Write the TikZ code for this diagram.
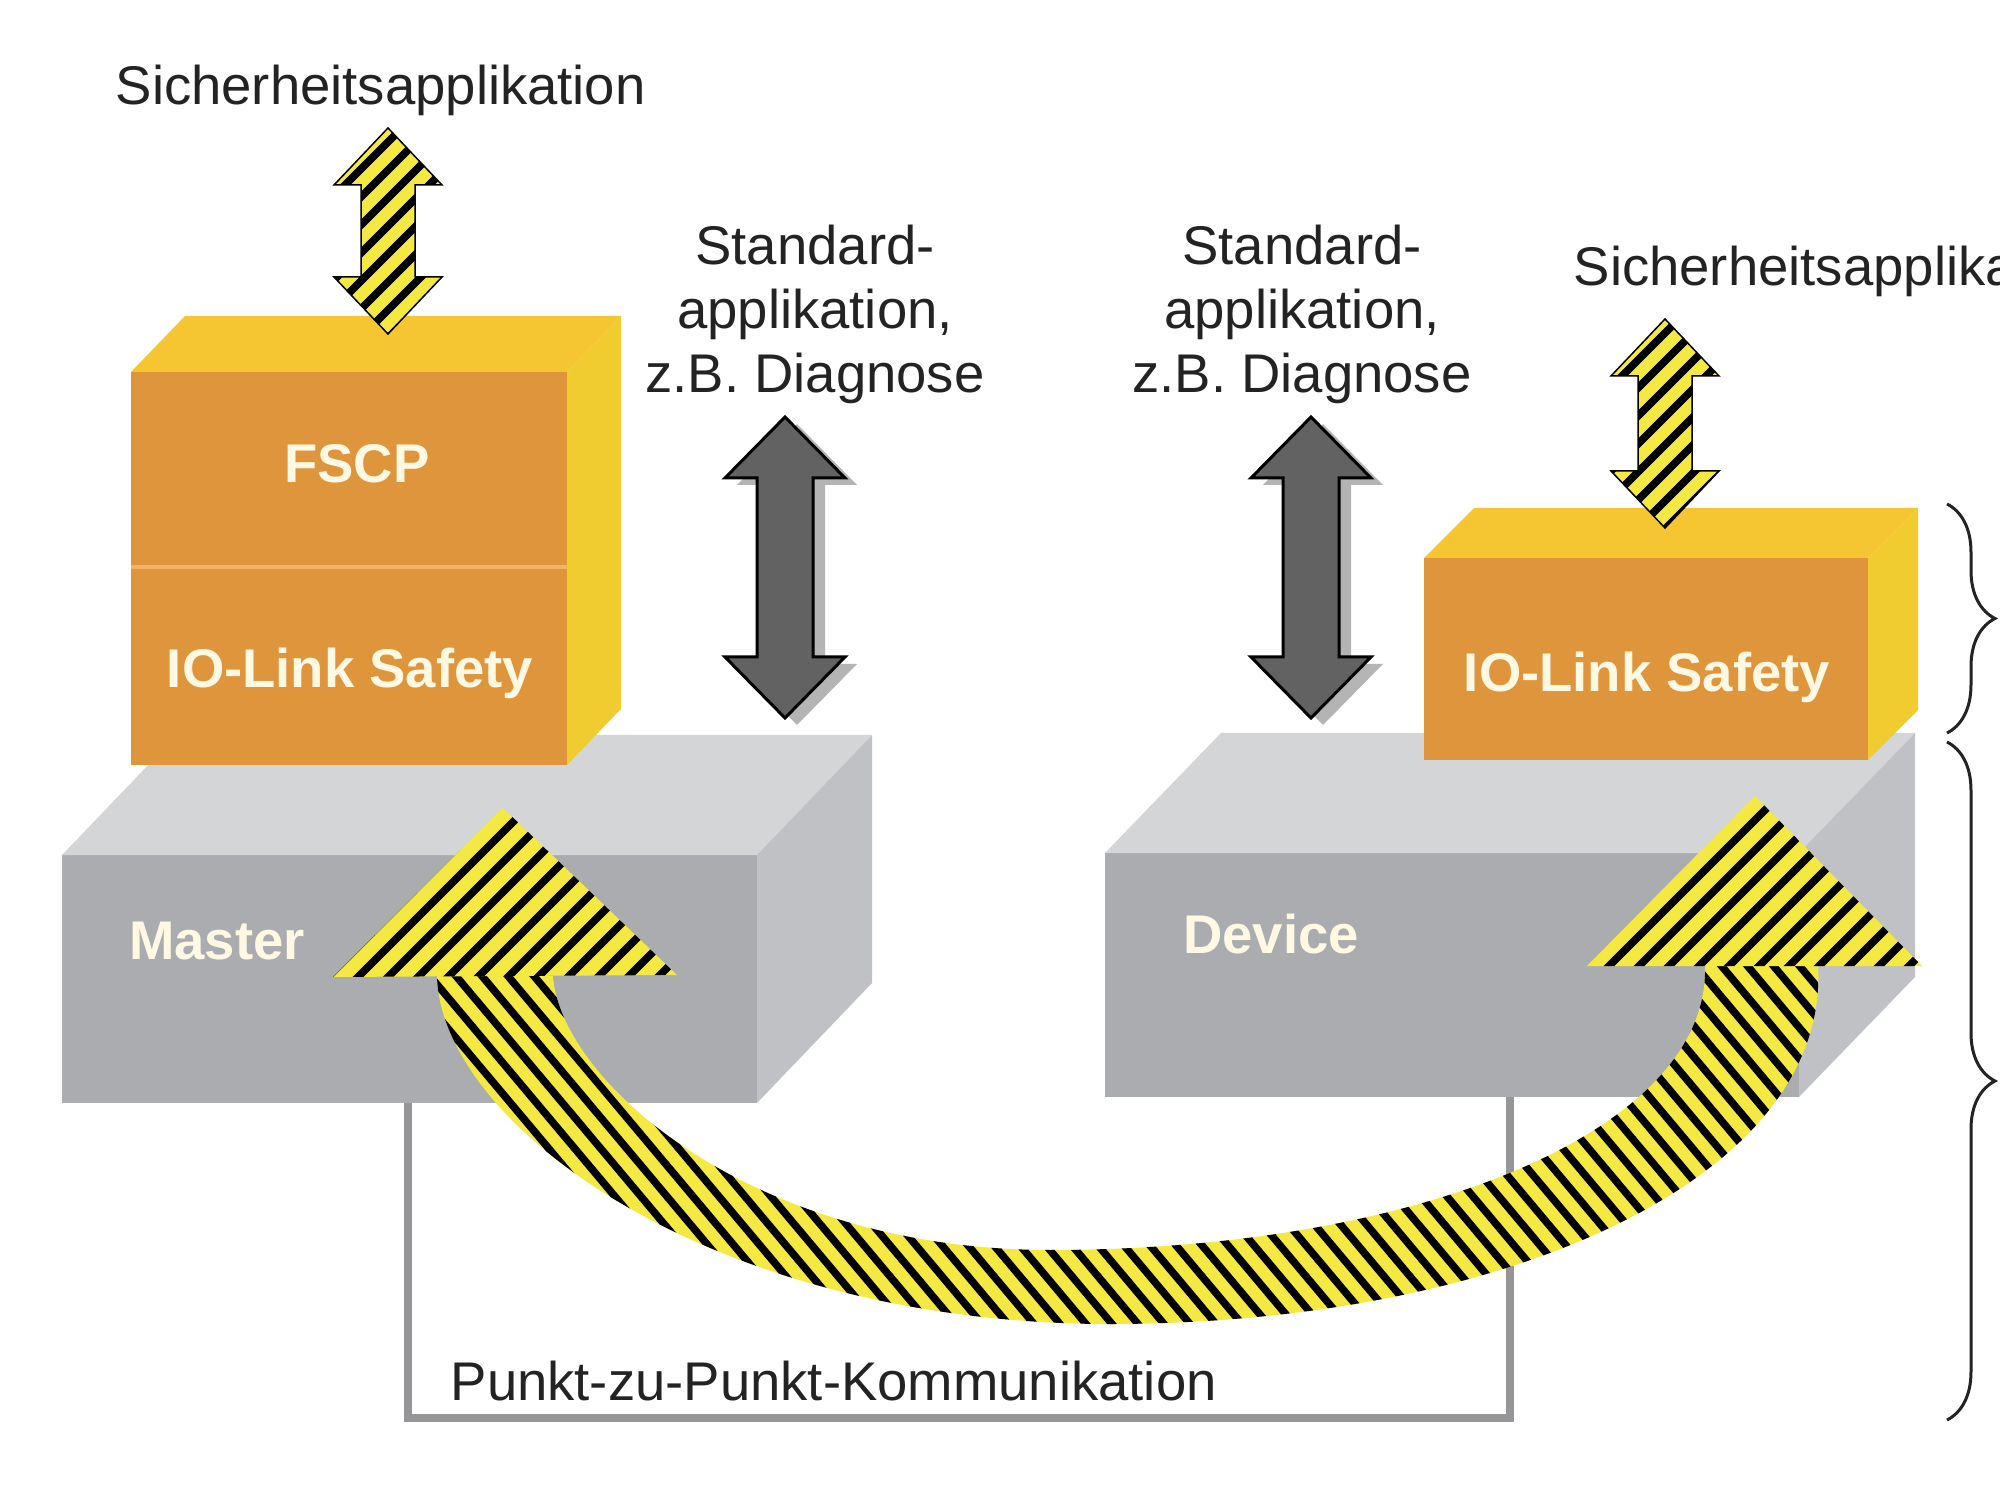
\documentclass[tikz,border=0pt]{standalone}
\usepackage{fontspec}
\setmainfont{Liberation Sans}
\usetikzlibrary{decorations.pathreplacing}
\definecolor{stripeyellow}{RGB}{244,232,66}
\definecolor{orangefront}{RGB}{222,149,60}
\definecolor{orangetop}{RGB}{246,198,50}
\definecolor{orangeside}{RGB}{240,204,48}
\definecolor{orangeline}{RGB}{244,178,100}
\definecolor{greyfront}{RGB}{171,172,175}
\definecolor{greytop}{RGB}{212,213,215}
\definecolor{greyside}{RGB}{192,193,196}
\definecolor{darkarrow}{RGB}{98,98,98}
\definecolor{arrowshadow}{RGB}{180,180,180}
\definecolor{framegrey}{RGB}{150,150,152}
\definecolor{frameshadow}{RGB}{215,215,217}
\definecolor{labelcream}{RGB}{255,249,228}
\definecolor{textdark}{RGB}{35,35,35}
\tikzset{
  lbl/.style={inner sep=0pt, text=textdark, font=\fontsize{15.5pt}{18.2pt}\selectfont},
  boxlbl/.style={inner sep=0pt, text=labelcream, font=\fontsize{15.5pt}{18.2pt}\selectfont\bfseries},
  stripeline/.style={line width=0.75mm, black},
  frameline/.style={line width=0.8mm, framegrey},
  brc/.style={decorate, decoration={brace, amplitude=4.8mm}, draw=textdark, line width=0.3mm},
}
% striped double arrow: cx, top, bottom
\newcommand{\stripeddouble}[3]{%
  \begin{scope}
    \clip (#1,#2) -- ({#1+54},{#2+57}) -- ({#1+27},{#2+57}) -- ({#1+27},{#3-57}) -- ({#1+54},{#3-57}) -- (#1,#3) -- ({#1-54},{#3-57}) -- ({#1-27},{#3-57}) -- ({#1-27},{#2+57}) -- ({#1-54},{#2+57}) -- cycle;
    \fill[stripeyellow] ({#1-60},{#2-5}) rectangle ({#1+60},{#3+5});
    \foreach \k in {0,...,22} {
      \draw[stripeline] ({#1-60-(#3-#2)-20+\k*28},{#3+10}) -- ++(420,-420);
    }
  \end{scope}
  \draw[black, line width=0.15mm] (#1,#2) -- ({#1+54},{#2+57}) -- ({#1+27},{#2+57}) -- ({#1+27},{#3-57}) -- ({#1+54},{#3-57}) -- (#1,#3) -- ({#1-54},{#3-57}) -- ({#1-27},{#3-57}) -- ({#1-27},{#2+57}) -- ({#1-54},{#2+57}) -- cycle;
}
% dark double arrow with shadow: cx, top, bottom
\newcommand{\darkdouble}[3]{%
  \fill[arrowshadow, shift={(12,7)}] (#1,#2) -- ({#1+60},{#2+61}) -- ({#1+28},{#2+61}) -- ({#1+28},{#3-61}) -- ({#1+60},{#3-61}) -- (#1,#3) -- ({#1-60},{#3-61}) -- ({#1-28},{#3-61}) -- ({#1-28},{#2+61}) -- ({#1-60},{#2+61}) -- cycle;
  \filldraw[fill=darkarrow, draw=black, line width=0.3mm] (#1,#2) -- ({#1+60},{#2+61}) -- ({#1+28},{#2+61}) -- ({#1+28},{#3-61}) -- ({#1+60},{#3-61}) -- (#1,#3) -- ({#1-60},{#3-61}) -- ({#1-28},{#3-61}) -- ({#1-28},{#2+61}) -- ({#1-60},{#2+61}) -- cycle;
}
\begin{document}
\begin{tikzpicture}[x=0.1mm,y=-0.1mm]
\useasboundingbox (0,0) rectangle (2000,1500);
\clip (0,0) rectangle (2000,1500);
\fill[white] (0,0) rectangle (2000,1500);

% ---------- grey base boxes ----------
\fill[greyfront] (62,855) rectangle (757,1103);
\fill[greytop] (62,855) -- (177,735) -- (872,735) -- (757,855) -- cycle;
\fill[greyside] (757,855) -- (872,735) -- (872,983) -- (757,1103) -- cycle;

\fill[greyfront] (1105,853) rectangle (1799,1097);
\fill[greytop] (1105,853) -- (1221,733) -- (1915,733) -- (1799,853) -- cycle;
\fill[greyside] (1799,853) -- (1915,733) -- (1915,977) -- (1799,1097) -- cycle;

% ---------- orange boxes ----------
\fill[orangefront] (131,372) rectangle (567,765);
\fill[orangetop] (131,372) -- (185,316) -- (621,316) -- (567,372) -- cycle;
\fill[orangeside] (567,372) -- (621,316) -- (621,709) -- (567,765) -- cycle;
\draw[orangeline, line width=0.35mm] (131,567) -- (567,567);

\fill[orangefront] (1424,558) rectangle (1868,760);
\fill[orangetop] (1424,558) -- (1474,508) -- (1918,508) -- (1868,558) -- cycle;
\fill[orangeside] (1868,558) -- (1918,508) -- (1918,710) -- (1868,760) -- cycle;

% ---------- box labels ----------
\node[boxlbl, anchor=base] (fscp) at (357,483) {FSCP};
\node[boxlbl, anchor=base] (iolsL) at (350,688) {IO-Link Safety};
\node[boxlbl, anchor=base] (iolsR) at (1647,692) {IO-Link Safety};
\node[boxlbl, anchor=base] (master) at (217,959) {Master};
\node[boxlbl, anchor=base] (device) at (1271,953) {Device};

% ---------- frame (Punkt-zu-Punkt) ----------
\coordinate (mbot) at (408,1103);
\coordinate (dbot) at (1510,1097);
\coordinate (fl) at (408,1418);
\coordinate (fr) at (1510,1418);
\draw[frameshadow, line width=0.8mm, shift={(4,5)}] (mbot) -- (fl) -- (fr) -- (dbot);
\draw[frameline] (mbot) -- (fl) -- (fr) -- (dbot);
\node[lbl, anchor=base west] (p2p) at (450,1400) {Punkt-zu-Punkt-Kommunikation};

% ---------- texts ----------
\node[lbl, anchor=base west] (sichL) at (115,105) {Sicherheitsapplikation};
\node[lbl, anchor=base west] (sichR) at (1573,286) {Sicherheitsapplikation};
\node[lbl, anchor=base] (stdL1) at (815,265) {Standard-};
\node[lbl, anchor=base] (stdL2) at (815,329) {applikation,};
\node[lbl, anchor=base] (stdL3) at (815,393) {z.B. Diagnose};
\node[lbl, anchor=base] (stdR1) at (1302,265) {Standard-};
\node[lbl, anchor=base] (stdR2) at (1302,329) {applikation,};
\node[lbl, anchor=base] (stdR3) at (1302,393) {z.B. Diagnose};

% ---------- arrows ----------
\stripeddouble{388}{128}{334}
\stripeddouble{1665}{319}{528}
\darkdouble{785}{417}{718}
\darkdouble{1311}{417}{718}

% ---------- big curved safety arrow ----------
\begin{scope}
  \clip (437,976) .. controls (440,1120) and (700,1320) .. (1100,1324)
        .. controls (1500,1326) and (1830,1180) .. (1818,966)
        -- (1705,966) .. controls (1710,1130) and (1420,1250) .. (1050,1250)
        .. controls (750,1250) and (560,1080) .. (553,976) -- cycle;
  \fill[stripeyellow] (420,950) rectangle (1840,1340);
  \foreach \k in {0,...,90} {
    \draw[stripeline] ({-320+\k*26},640) -- ++(600,715);
  }
\end{scope}
\begin{scope}
  \clip (333,977) -- (503,808) -- (677,975) -- cycle;
  \fill[stripeyellow] (325,800) rectangle (685,985);
  \foreach \k in {0,...,20} {
    \draw[stripeline] ({130+\k*30},995) -- ++(300,-300);
  }
\end{scope}
\begin{scope}
  \clip (1587,966) -- (1755,796) -- (1922,966) -- cycle;
  \fill[stripeyellow] (1580,790) rectangle (1930,975);
  \foreach \k in {0,...,20} {
    \draw[stripeline] ({1380+\k*30},985) -- ++(300,-300);
  }
\end{scope}

% ---------- braces ----------
\coordinate (b1t) at (1947,504);
\coordinate (b1b) at (1947,733);
\coordinate (b2t) at (1947,742);
\coordinate (b2b) at (1947,1420);
\draw[brc] (b1t) -- (b1b);
\draw[brc] (b2t) -- (b2b);
\end{tikzpicture}
\end{document}
